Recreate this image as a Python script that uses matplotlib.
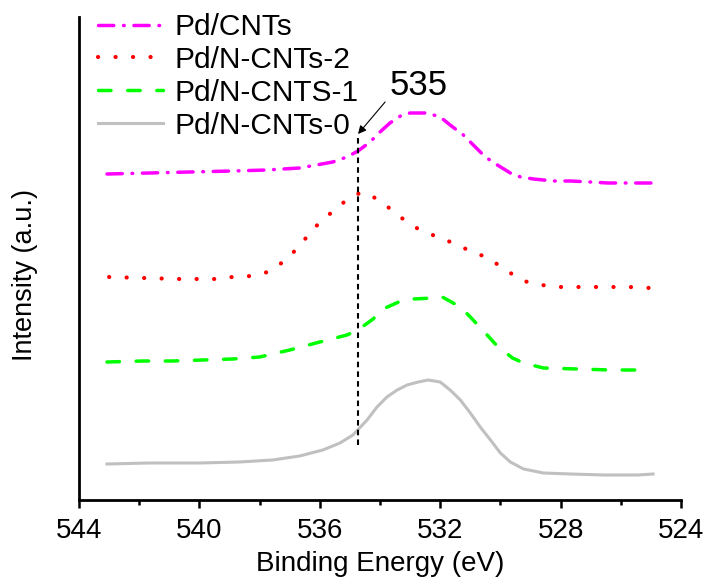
import matplotlib
matplotlib.use("Agg")
import matplotlib.pyplot as plt

plt.rcParams['font.family'] = ['Liberation Sans', 'DejaVu Sans']
plt.rcParams['lines.scale_dashes'] = False

# Binding energy (eV) and intensity (a.u.)
cnts_x = [543.07, 541.67, 540.33, 538.9, 537.77, 536.67, 535.57, 535.1, 534.73, 534.33,
          534.0, 533.67, 533.27, 533.0, 532.43, 532.0, 531.67, 531.23, 530.9, 530.5,
          530.1, 529.67, 529.33, 528.9, 528.23, 527.67, 527.0, 526.43, 525.9, 525.23, 525.0]
cnts_y = [326, 327, 328, 329, 330, 332, 338, 343, 349, 358,
          368, 377, 385, 387, 387, 383, 375, 365, 355, 343,
          335, 327, 323, 321, 319, 319, 318, 317, 317, 317, 317]

n2_x = [543.0, 541.83, 540.67, 539.43, 538.9, 538.27, 537.73, 537.17, 536.67, 536.23,
        535.67, 535.07, 534.67, 534.43, 533.9, 533.33, 532.73, 532.17, 531.57, 531.0,
        530.4, 529.83, 529.23, 528.63, 528.07, 526.9, 525.73, 525.0]
n2_y = [223, 222, 221, 221, 223, 224, 228, 239, 254, 271,
        286, 301, 307, 307, 297, 283, 271, 264, 257, 249,
        242, 230, 219, 215, 213, 213, 213, 212]

n1_x = [543.07, 541.9, 540.9, 539.9, 538.9, 538.0, 537.0, 536.0, 535.1, 534.73,
        534.23, 533.9, 533.23, 532.9, 532.23, 531.93, 531.33, 531.0, 530.5, 530.17,
        529.6, 529.23, 528.57, 527.43, 526.33, 525.33]
n1_y = [138, 139, 139, 140, 141, 143, 150, 158, 165, 170,
        181, 191, 200, 201, 202, 203, 193, 183, 167, 156,
        142, 137, 132, 131, 130, 130]

n0_x = [543.07, 541.67, 540.0, 538.67, 537.57, 536.67, 535.9, 535.33, 534.9, 534.43,
        534.1, 533.77, 533.43, 533.1, 532.73, 532.4, 532.0, 531.67, 531.33, 531.0,
        530.67, 530.33, 530.0, 529.67, 529.23, 528.57, 527.67, 526.57, 525.43, 524.93]
n0_y = [36, 37, 37, 38, 40, 44, 50, 57, 65, 80,
        93, 103, 110, 115, 118, 120, 118, 110, 100, 87,
        73, 60, 47, 38, 31, 27, 26, 25, 25, 26]

labels = ['Pd/CNTs', 'Pd/N-CNTs-2', 'Pd/N-CNTS-1', 'Pd/N-CNTs-0']
xticks = [544, 540, 536, 532, 528, 524]
mark_x = 534.73
mark_y = [55, 366]

fig = plt.figure(figsize=(7.10, 5.78), dpi=100)
ax = fig.add_axes([79 / 710, 78 / 578, 602 / 710, 483 / 578])

ax.plot(cnts_x, cnts_y, color='#ff00ff', lw=2.5, dashes=(11, 7, 0.5, 7),
        dash_capstyle='round', label=labels[0])
ax.plot(n2_x, n2_y, color='#ff0000', lw=3, dashes=(0.1, 12.5),
        dash_capstyle='round', label=labels[1])
ax.plot(n1_x, n1_y, color='#00ff00', lw=2.5, dashes=(9, 12),
        dash_capstyle='round', label=labels[2])
ax.plot(n0_x, n0_y, color='#c0c0c0', lw=2.2, label=labels[3])

# marker line at 535 eV
ax.plot([mark_x, mark_x], mark_y, color='black', lw=1.5, dashes=(4, 3))
ax.annotate('', xy=(mark_x, mark_y[1]), xytext=(533.83, 398),
            arrowprops=dict(arrowstyle='-|>', color='black', lw=0.8,
                            mutation_scale=12, shrinkA=0, shrinkB=0))
ax.text(532.73, 414, '535', fontsize=25, ha='center', va='center')

ax.set_xlim(544, 524)
ax.set_ylim(0, 483)
ax.set_xticks(xticks)
ax.set_xticks([542, 538, 534, 530, 526], minor=True)
ax.set_yticks([])
ax.tick_params(axis='x', which='major', direction='out', length=6, width=1.8,
               labelsize=20, pad=7)
ax.tick_params(axis='x', which='minor', direction='out', length=3.5, width=1.8)
for s in ['top', 'right']:
    ax.spines[s].set_visible(False)
for s in ['left', 'bottom']:
    ax.spines[s].set_linewidth(2)

ax.set_xlabel('Binding Energy (eV)', fontsize=20, labelpad=5)
fig.text(25 / 710, 1 - 275 / 578, 'Intensity (a.u.)', fontsize=19.5,
         rotation=90, ha='center', va='center')

ax.legend(loc='upper left', bbox_to_anchor=(98 / 710, 1 - 13 / 578),
          bbox_transform=fig.transFigure, frameon=False, fontsize=21.5,
          handlelength=2.17, handletextpad=0.4, labelspacing=0.165,
          borderpad=0, borderaxespad=0)

fig.savefig('out.png', dpi=100)
